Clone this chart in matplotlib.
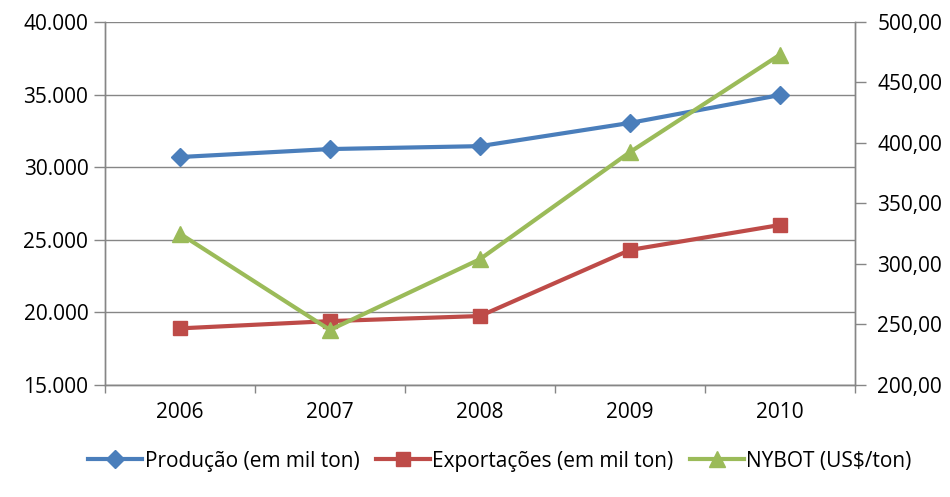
import matplotlib
matplotlib.use("Agg")
import matplotlib.pyplot as plt
from matplotlib.ticker import FuncFormatter, FixedLocator

years = ["2006", "2007", "2008", "2009", "2010"]
producao = [30700, 31250, 31450, 33050, 34970]
exportacoes = [18900, 19400, 19750, 24300, 26020]
nybot = [325.0, 245.5, 304.0, 392.5, 473.0]

labels = ["Produção (em mil ton)", "Exportações (em mil ton)", "NYBOT (US$/ton)"]
colors = ["#4A7EBB", "#BE4B48", "#9BBB59"]

plt.rcParams['font.family'] = ['Open Sans', 'DejaVu Sans']
FS = 15

fig = plt.figure(figsize=(9.5, 4.97), dpi=100)
ax = fig.add_axes([105/950, 112/497, 750/950, 363/497])
ax2 = ax.twinx()

x = list(range(len(years)))
l1, = ax.plot(x, producao, color=colors[0], lw=3, marker='D', ms=9, zorder=3)
l2, = ax.plot(x, exportacoes, color=colors[1], lw=3, marker='s', ms=10, zorder=3)
l3, = ax2.plot(x, nybot, color=colors[2], lw=3, marker='^', ms=12, zorder=3)

ax.set_xlim(-0.5, 4.5)
ax.set_ylim(15000, 40000)
ax2.set_ylim(200, 500)
ax.set_yticks(range(15000, 40001, 5000))
ax2.set_yticks(range(200, 501, 50))
ax.yaxis.set_major_formatter(FuncFormatter(lambda v, p: f"{int(v):,}".replace(",", ".")))
ax2.yaxis.set_major_formatter(FuncFormatter(lambda v, p: f"{v:.2f}".replace(".", ",")))

ax.set_xticks(x)
ax.set_xticklabels(years)
ax.xaxis.set_minor_locator(FixedLocator([-0.5, 0.5, 1.5, 2.5, 3.5, 4.5]))
ax.tick_params(axis='x', which='major', length=0, pad=12, labelsize=FS)
ax.tick_params(axis='x', which='minor', length=6, color='#868686', width=1)
ax.tick_params(axis='y', length=8, color='#868686', width=1, labelsize=FS, pad=4)
ax2.tick_params(axis='y', length=8, color='#868686', width=1, labelsize=FS, pad=8)

ax.grid(axis='y', color='#868686', lw=1)
ax.set_axisbelow(True)
for a in (ax, ax2):
    a.spines['top'].set_visible(False)
    for s in ('left', 'right', 'bottom'):
        a.spines[s].set_color('#868686')
        a.spines[s].set_linewidth(1)

fig.legend([l1, l2, l3], labels, loc='center', bbox_to_anchor=(500/950, 36/497), ncol=3,
           frameon=False, fontsize=FS, handlelength=2.6, columnspacing=0.8, handletextpad=0.1)

fig.savefig("out.png", dpi=100)
